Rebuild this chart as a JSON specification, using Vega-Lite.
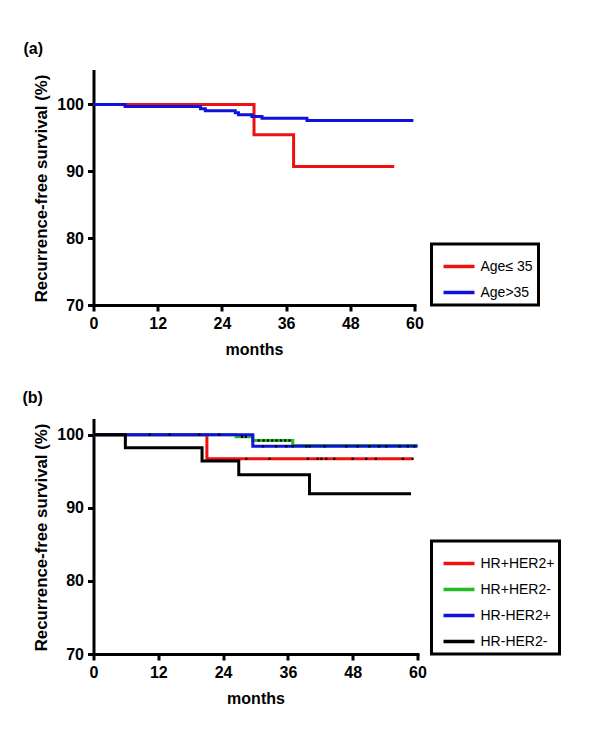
{
  "$schema": "https://vega.github.io/schema/vega-lite/v6.json",
  "background": "white",
  "padding": {"left": 22.5, "top": 41, "right": 5, "bottom": 5},
  "spacing": 33,
  "datasets": {
    "a_curves": [
      {"group": "Age≤ 35", "month": 0, "survival": 100},
      {"group": "Age≤ 35", "month": 30.0, "survival": 95.45},
      {"group": "Age≤ 35", "month": 37.4, "survival": 90.7},
      {"group": "Age≤ 35", "month": 56.2, "survival": 90.7},
      {"group": "Age>35", "month": 0, "survival": 100},
      {"group": "Age>35", "month": 5.9, "survival": 99.7},
      {"group": "Age>35", "month": 20.0, "survival": 99.35},
      {"group": "Age>35", "month": 20.9, "survival": 99.05},
      {"group": "Age>35", "month": 26.5, "survival": 98.75},
      {"group": "Age>35", "month": 27.1, "survival": 98.45},
      {"group": "Age>35", "month": 29.6, "survival": 98.2},
      {"group": "Age>35", "month": 31.5, "survival": 97.95},
      {"group": "Age>35", "month": 39.9, "survival": 97.6},
      {"group": "Age>35", "month": 59.8, "survival": 97.6}
    ],
    "b_curves": [
      {"group": "HR+HER2+", "month": 0, "survival": 100},
      {"group": "HR+HER2+", "month": 21.0, "survival": 96.7},
      {"group": "HR+HER2+", "month": 59.1, "survival": 96.7},
      {"group": "HR+HER2-", "month": 0, "survival": 100},
      {"group": "HR+HER2-", "month": 26.4, "survival": 99.7},
      {"group": "HR+HER2-", "month": 29.5, "survival": 99.2},
      {"group": "HR+HER2-", "month": 36.9, "survival": 98.5},
      {"group": "HR+HER2-", "month": 60, "survival": 98.5},
      {"group": "HR-HER2+", "month": 0, "survival": 100},
      {"group": "HR-HER2+", "month": 29.5, "survival": 98.4},
      {"group": "HR-HER2+", "month": 60, "survival": 98.4},
      {"group": "HR-HER2-", "month": 0, "survival": 100},
      {"group": "HR-HER2-", "month": 5.9, "survival": 98.2},
      {"group": "HR-HER2-", "month": 20.1, "survival": 96.4},
      {"group": "HR-HER2-", "month": 26.9, "survival": 94.5},
      {"group": "HR-HER2-", "month": 40.0, "survival": 91.9},
      {"group": "HR-HER2-", "month": 58.8, "survival": 91.9}
    ],
    "b_censor": [
      {"group": "HR+HER2+", "month": 28.3, "survival": 96.7},
      {"group": "HR+HER2+", "month": 32.6, "survival": 96.7},
      {"group": "HR+HER2+", "month": 39.7, "survival": 96.7},
      {"group": "HR+HER2+", "month": 41.5, "survival": 96.7},
      {"group": "HR+HER2+", "month": 42.2, "survival": 96.7},
      {"group": "HR+HER2+", "month": 43.1, "survival": 96.7},
      {"group": "HR+HER2+", "month": 44.6, "survival": 96.7},
      {"group": "HR+HER2+", "month": 48.0, "survival": 96.7},
      {"group": "HR+HER2+", "month": 50.5, "survival": 96.7},
      {"group": "HR+HER2+", "month": 52.3, "survival": 96.7},
      {"group": "HR+HER2+", "month": 57.3, "survival": 96.7},
      {"group": "HR+HER2+", "month": 59.1, "survival": 96.7},
      {"group": "HR+HER2-", "month": 27.5, "survival": 99.7},
      {"group": "HR+HER2-", "month": 28.2, "survival": 99.7},
      {"group": "HR+HER2-", "month": 30.6, "survival": 99.2},
      {"group": "HR+HER2-", "month": 31.5, "survival": 99.2},
      {"group": "HR+HER2-", "month": 32.3, "survival": 99.2},
      {"group": "HR+HER2-", "month": 33.1, "survival": 99.2},
      {"group": "HR+HER2-", "month": 33.9, "survival": 99.2},
      {"group": "HR+HER2-", "month": 34.7, "survival": 99.2},
      {"group": "HR+HER2-", "month": 35.5, "survival": 99.2},
      {"group": "HR+HER2-", "month": 36.3, "survival": 99.2},
      {"group": "HR-HER2+", "month": 10.4, "survival": 100},
      {"group": "HR-HER2+", "month": 14.1, "survival": 100},
      {"group": "HR-HER2+", "month": 19.6, "survival": 100},
      {"group": "HR-HER2+", "month": 23.3, "survival": 100},
      {"group": "HR-HER2+", "month": 31.4, "survival": 98.4},
      {"group": "HR-HER2+", "month": 33.8, "survival": 98.4},
      {"group": "HR-HER2+", "month": 35.7, "survival": 98.4},
      {"group": "HR-HER2+", "month": 36.9, "survival": 98.4},
      {"group": "HR-HER2+", "month": 39.4, "survival": 98.4},
      {"group": "HR-HER2+", "month": 40.0, "survival": 98.4},
      {"group": "HR-HER2+", "month": 42.8, "survival": 98.4},
      {"group": "HR-HER2+", "month": 46.8, "survival": 98.4},
      {"group": "HR-HER2+", "month": 48.9, "survival": 98.4},
      {"group": "HR-HER2+", "month": 51.1, "survival": 98.4},
      {"group": "HR-HER2+", "month": 52.9, "survival": 98.4},
      {"group": "HR-HER2+", "month": 54.2, "survival": 98.4},
      {"group": "HR-HER2+", "month": 56.7, "survival": 98.4},
      {"group": "HR-HER2+", "month": 58.2, "survival": 98.4},
      {"group": "HR-HER2+", "month": 59.4, "survival": 98.4}
    ]
  },
  "config": {
    "font": "Liberation Sans",
    "view": {"stroke": null},
    "axis": {
      "grid": false,
      "domainColor": "black",
      "domainWidth": 3,
      "domainCap": "square",
      "tickColor": "black",
      "tickWidth": 3,
      "tickSize": 6,
      "labelFont": "Liberation Sans",
      "labelFontSize": 16,
      "labelFontWeight": "bold",
      "labelColor": "black",
      "labelFlush": false,
      "titleFont": "Liberation Sans",
      "titleFontSize": 16,
      "titleFontWeight": "bold",
      "titleColor": "black"
    },
    "axisX": {"labelPadding": 4, "titlePadding": 10},
    "axisY": {"labelPadding": 4, "titlePadding": 6, "titleFontSize": 16.8},
    "legend": {
      "strokeColor": "black",
      "strokeWidth": 3,
      "labelFont": "Liberation Sans",
      "labelFontSize": 14,
      "labelColor": "black",
      "symbolType": "stroke",
      "symbolSize": 961,
      "symbolStrokeWidth": 3.5,
      "symbolOffset": 5,
      "padding": 5,
      "rowPadding": 1,
      "labelOffset": 4
    },
    "title": {"font": "Liberation Sans", "fontSize": 16, "fontWeight": "bold", "color": "black", "anchor": "start", "frame": "group"}
  },
  "resolve": {"scale": {"color": "independent"}, "legend": {"color": "independent"}},
  "vconcat": [
    {
      "width": 321,
      "height": 234,
      "title": {"text": "(a)", "dx": -70, "offset": 14},
      "data": {"name": "a_curves"},
      "mark": {"type": "line", "interpolate": "step-after", "strokeWidth": 3},
      "encoding": {
        "x": {"field": "month", "type": "quantitative", "scale": {"domain": [0, 60], "nice": false}, "axis": {"values": [0, 12, 24, 36, 48, 60], "title": "months"}},
        "y": {"field": "survival", "type": "quantitative", "scale": {"domain": [70, 105], "nice": false, "zero": false}, "axis": {"values": [70, 80, 90, 100], "title": "Recurrence-free survival (%)"}},
        "color": {
          "field": "group", "type": "nominal",
          "scale": {"domain": ["Age≤ 35", "Age>35"], "range": ["#ee1111", "#1111dd"]},
          "legend": {"title": null, "orient": "none", "legendX": 338, "legendY": 173}
        }
      }
    },
    {
      "width": 324,
      "height": 234,
      "title": {"text": "(b)", "dx": -71, "offset": 14},
      "encoding": {
        "x": {"field": "month", "type": "quantitative", "scale": {"domain": [0, 60], "nice": false}, "axis": {"values": [0, 12, 24, 36, 48, 60], "title": "months"}},
        "y": {"field": "survival", "type": "quantitative", "scale": {"domain": [70, 102], "nice": false, "zero": false}, "axis": {"values": [70, 80, 90, 100], "title": "Recurrence-free survival (%)"}}
      },
      "layer": [
        {
          "data": {"name": "b_curves"},
          "mark": {"type": "line", "interpolate": "step-after", "strokeWidth": 3},
          "encoding": {
            "color": {
              "field": "group", "type": "nominal",
              "scale": {"domain": ["HR+HER2+", "HR+HER2-", "HR-HER2+", "HR-HER2-"], "range": ["#ee1111", "#22bb22", "#1111dd", "black"]},
              "legend": {"title": null, "orient": "none", "legendX": 338, "legendY": 121}
            }
          }
        },
        {
          "data": {"name": "b_censor"},
          "mark": {"type": "square", "size": 5, "color": "black", "opacity": 1},
          "encoding": {}
        }
      ]
    }
  ]
}
